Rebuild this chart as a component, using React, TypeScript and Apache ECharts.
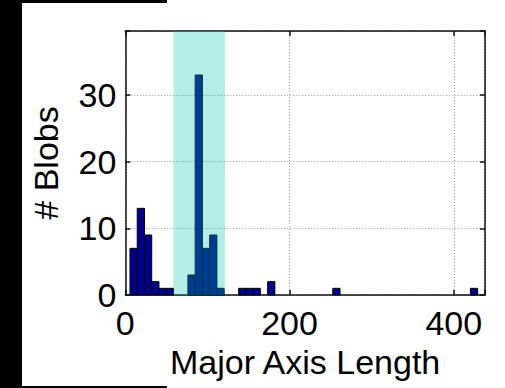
import React, { useEffect, useRef } from "react";
import * as echarts from "echarts";

// Histogram of blob major-axis lengths
const binStart = 5.7;
const binWidth = 8.82;
const binCounts = [
  7, 13, 9, 2, 1, 1, 0, 0, 3, 33, 7, 9, 1, 0, 0, 1, 1, 1, 0, 2,
  0, 0, 0, 0, 0, 0, 0, 0, 1, 0, 0, 0, 0, 0, 0, 0, 0, 0, 0, 0,
  0, 0, 0, 0, 0, 0, 0, 1,
];
const highlightRange = [58.5, 121.3];
const xTicks = [0, 200, 400];
const yTicks = [0, 10, 20, 30];
const xMax = 438;
const yMax = 39.6;

const FONT = "'Liberation Sans', Arial, sans-serif";

export default function App() {
  const ref = useRef<HTMLDivElement>(null);
  useEffect(() => {
    document.body.style.margin = "0";
    const chart = echarts.init(ref.current!, null, { renderer: "svg" });
    const barData = binCounts
      .map((c, i) => [binStart + i * binWidth, binStart + (i + 1) * binWidth, c])
      .filter((d) => d[2] > 0);

    const axisCommon = {
      min: 0,
      axisLine: { show: true, onZero: false, lineStyle: { color: "#111", width: 1.5 } },
      axisTick: { show: true, inside: true, length: 5, lineStyle: { color: "#111", width: 1.5 } },
    };

    chart.setOption({
      animation: false,
      backgroundColor: "#fff",
      grid: { left: 125.3, top: 31, right: 20, bottom: 93, containLabel: false },
      xAxis: [
        {
          ...axisCommon,
          type: "value",
          max: xMax,
          interval: 200,
          position: "bottom",
          name: "Major Axis Length",
          nameLocation: "middle",
          nameGap: 43,
          nameTextStyle: { fontFamily: FONT, fontSize: 34, color: "#000" },
          axisLabel: {
            fontFamily: FONT,
            fontSize: 34,
            color: "#000",
            margin: 11,
            formatter: (v: number) => (xTicks.includes(v) ? String(v) : ""),
          },
          splitLine: {
            show: true,
            lineStyle: { color: "#999", type: [1, 2], width: 1 },
          },
        },
        {
          ...axisCommon,
          type: "value",
          max: xMax,
          interval: 200,
          position: "top",
          axisLabel: { show: false },
          splitLine: { show: false },
        },
      ],
      yAxis: [
        {
          ...axisCommon,
          type: "value",
          max: yMax,
          interval: 10,
          position: "left",
          name: "# Blobs",
          nameLocation: "middle",
          nameGap: 62,
          nameRotate: 90,
          nameTextStyle: { fontFamily: FONT, fontSize: 34, color: "#000" },
          axisLabel: {
            fontFamily: FONT,
            fontSize: 34,
            color: "#000",
            margin: 9,
            formatter: (v: number) => (yTicks.includes(v) ? String(v) : ""),
          },
          splitLine: {
            show: true,
            lineStyle: { color: "#999", type: [1, 2], width: 1 },
          },
        },
        {
          ...axisCommon,
          type: "value",
          max: yMax,
          interval: 10,
          position: "right",
          axisLabel: { show: false },
          splitLine: { show: false },
        },
      ],
      series: [
        {
          type: "custom",
          z: 2,
          xAxisIndex: 0,
          yAxisIndex: 0,
          data: barData,
          encode: { x: [0, 1], y: 2 },
          renderItem: (params: any, api: any) => {
            const p0 = api.coord([api.value(0), api.value(2)]);
            const p1 = api.coord([api.value(1), 0]);
            return {
              type: "rect",
              shape: { x: p0[0], y: p0[1], width: p1[0] - p0[0], height: p1[1] - p0[1] },
              style: { fill: "#00008C", stroke: "#000", lineWidth: 1 },
            };
          },
        },
        {
          type: "custom",
          z: 3,
          xAxisIndex: 0,
          yAxisIndex: 0,
          data: [[highlightRange[0], highlightRange[1], yMax]],
          encode: { x: [0, 1], y: 2 },
          renderItem: (params: any, api: any) => {
            const p0 = api.coord([api.value(0), api.value(2)]);
            const p1 = api.coord([api.value(1), 0]);
            return {
              type: "rect",
              shape: { x: p0[0], y: p0[1], width: p1[0] - p0[0], height: p1[1] - p0[1] },
              style: { fill: "rgba(0,200,170,0.3)" },
            };
          },
        },
      ],
      graphic: [
        { type: "rect", z: 100, shape: { x: 0, y: 0, width: 22, height: 388 }, style: { fill: "#000" } },
        { type: "rect", z: 100, shape: { x: 0, y: 0, width: 167, height: 3 }, style: { fill: "#000" } },
        { type: "rect", z: 100, shape: { x: 22, y: 386, width: 145, height: 2 }, style: { fill: "#000" } },
      ],
    });
    return () => chart.dispose();
  }, []);
  return (
    <div
      ref={ref}
      style={{ position: "absolute", left: 0, top: 0, width: 505, height: 388 }}
    />
  );
}
